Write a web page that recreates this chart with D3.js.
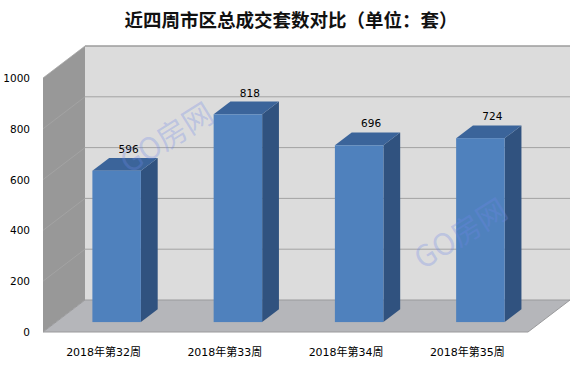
<!DOCTYPE html>
<html>
<head>
<meta charset="utf-8">
<script src="https://cdn.jsdelivr.net/npm/d3@7"></script>
<style>
  body { margin: 0; background: #fff; }
  svg { display: block; }
</style>
</head>
<body>
<svg width="581" height="366"></svg>
<script>
// chart data
const categories = ['2018年第32周', '2018年第33周', '2018年第34周', '2018年第35周'];
const values = [596, 818, 696, 724];
const yTicks = [0, 200, 400, 600, 800, 1000];
const titleText = '近四周市区总成交套数对比（单位：套）';
const watermark = 'GO房网';

const svg = d3.select('svg');

// front plane of the 3d box, depth goes up and right
const x = d3.scaleBand().domain(categories).range([43, 528]).paddingInner(0).paddingOuter(0);
const y = d3.scaleLinear().domain([0, 1000]).range([332, 78]);
const DX = 42, DY = -32;
const px = (xx, z) => xx + DX * z;
const py = (yy, z) => yy + DY * z;

const pts = a => a.map(p => p.join(',')).join(' ');

// title
svg.append('text')
  .attr('x', 291).attr('y', 27)
  .attr('text-anchor', 'middle')
  .attr('font-family', '"Noto Sans CJK SC", sans-serif')
  .attr('font-weight', 'bold')
  .attr('font-size', 18.5)
  .attr('fill', '#111')
  .text(titleText);

const x0 = x.range()[0], x1 = x.range()[1];
const yTop = y(1000), yBot = y(0);

// back wall
svg.append('polygon')
  .attr('points', pts([[px(x0,1), py(yTop,1)], [px(x1,1), py(yTop,1)], [px(x1,1), py(yBot,1)], [px(x0,1), py(yBot,1)]]))
  .attr('fill', '#dcdcdc');

// side wall
svg.append('polygon')
  .attr('points', pts([[x0, yTop], [px(x0,1), py(yTop,1)], [px(x0,1), py(yBot,1)], [x0, yBot]]))
  .attr('fill', '#989898');

// floor
svg.append('polygon')
  .attr('points', pts([[x0, yBot], [px(x0,1), py(yBot,1)], [px(x1,1), py(yBot,1)], [x1, yBot]]))
  .attr('fill', '#b5b6ba')
  .attr('stroke', '#9a9a9c')
  .attr('stroke-width', 1);

// gridlines on back wall and side wall
yTicks.forEach(t => {
  if (t === 0) return;
  svg.append('line')
    .attr('x1', px(x0,1)).attr('y1', py(y(t),1))
    .attr('x2', px(x1,1)).attr('y2', py(y(t),1))
    .attr('stroke', t === 1000 ? '#9c9c9c' : '#a3a3a3')
    .attr('stroke-width', t === 1000 ? 1.5 : 1);
  svg.append('line')
    .attr('x1', x0).attr('y1', y(t))
    .attr('x2', px(x0,1)).attr('y2', py(y(t),1))
    .attr('stroke', '#a6a6a6')
    .attr('stroke-width', 0.8);
});

// y tick labels
svg.append('g').selectAll('text')
  .data(yTicks)
  .join('text')
  .attr('x', 30)
  .attr('y', d => y(d) + 4)
  .attr('text-anchor', 'end')
  .attr('font-family', '"DejaVu Sans", sans-serif')
  .attr('font-size', 10.5)
  .attr('fill', '#000')
  .text(d => d);

// bars
const zf = 0.31, zb = 0.71;
const bw = x.bandwidth() * 0.4;
const bars = svg.append('g').selectAll('g')
  .data(categories.map((c, i) => ({ c, v: values[i] })))
  .join('g');

bars.each(function(d) {
  const g = d3.select(this);
  const l = x(d.c) + x.bandwidth() * 0.3;
  const r = l + bw;
  const t = y(d.v), b = y(0);
  // side
  g.append('polygon')
    .attr('points', pts([[px(r,zf), py(t,zf)], [px(r,zb), py(t,zb)], [px(r,zb), py(b,zb)], [px(r,zf), py(b,zf)]]))
    .attr('fill', '#30527f');
  // top
  g.append('polygon')
    .attr('points', pts([[px(l,zf), py(t,zf)], [px(l,zb), py(t,zb)], [px(r,zb), py(t,zb)], [px(r,zf), py(t,zf)]]))
    .attr('fill', '#3b649a');
  // front
  g.append('rect')
    .attr('x', px(l,zf)).attr('y', py(t,zf))
    .attr('width', bw).attr('height', b - t)
    .attr('fill', '#4f81bd');
  // value label
  g.append('text')
    .attr('x', px(l + bw / 2, zf) + 12)
    .attr('y', py(t, zb) - 5)
    .attr('text-anchor', 'middle')
    .attr('font-family', '"DejaVu Sans", sans-serif')
    .attr('font-size', 10.5)
    .attr('fill', '#000')
    .text(d.v);
});

// category labels
svg.append('g').selectAll('text')
  .data(categories)
  .join('text')
  .attr('x', d => x(d) + x.bandwidth() / 2)
  .attr('y', 356)
  .attr('text-anchor', 'middle')
  .attr('font-family', '"DejaVu Sans", "Noto Sans CJK SC", sans-serif')
  .attr('font-size', 11)
  .attr('fill', '#000')
  .text(d => d);

// watermarks
[[168, 140], [462, 236]].forEach(([cx, cy]) => {
  svg.append('text')
    .attr('transform', `translate(${cx},${cy}) rotate(-32)`)
    .attr('text-anchor', 'middle')
    .attr('dominant-baseline', 'middle')
    .attr('font-family', '"Noto Sans CJK SC", sans-serif')
    .attr('font-size', 30)
    .attr('fill', '#7088e8')
    .attr('fill-opacity', 0.3)
    .text(watermark);
});
</script>
</body>
</html>
